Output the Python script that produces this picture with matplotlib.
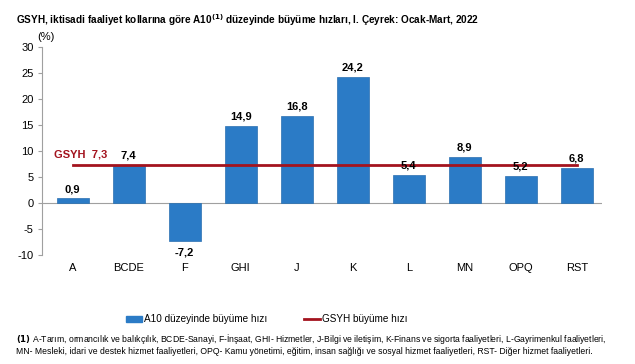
import matplotlib.pyplot as plt
from matplotlib.patches import Patch
from matplotlib.lines import Line2D

plt.rcParams['font.family'] = ['Liberation Sans', 'DejaVu Sans']

# veriler
kategoriler = ['A', 'BCDE', 'F', 'GHI', 'J', 'K', 'L', 'MN', 'OPQ', 'RST']
buyume = [0.9, 7.4, -7.2, 14.9, 16.8, 24.2, 5.4, 8.9, 5.2, 6.8]
gsyh = 7.3
y_ticks = [-10, -5, 0, 5, 10, 15, 20, 25, 30]

bar_renk = '#2B7BC6'
cizgi_renk = '#A3131E'

fig = plt.figure(figsize=(6.35, 3.64), dpi=100)
ax = fig.add_axes([0.066, 0.299, 0.882, 0.572])

x = list(range(len(kategoriler)))
ax.bar(x, buyume, width=0.57, color=bar_renk, edgecolor='#2A6FB0', linewidth=0.5, zorder=2)
ax.plot([x[0], x[-1]], [gsyh, gsyh], color=cizgi_renk, linewidth=2, zorder=3)

# deger etiketleri
for xi, v in zip(x, buyume):
    lbl = f'{v:.1f}'.replace('.', ',')
    if v >= 0:
        ax.text(xi, v + 0.8, lbl, ha='center', va='bottom', fontsize=8, fontweight='bold')
    else:
        ax.text(xi, v - 1.3, lbl, ha='center', va='top', fontsize=8, fontweight='bold')

ax.text(-0.33, gsyh + 1.0, 'GSYH  ' + f'{gsyh:.1f}'.replace('.', ','), color=cizgi_renk,
        fontsize=8, fontweight='bold', ha='left', va='bottom')

ax.set_xlim(-0.55, 9.45)
ax.set_ylim(-10, 30)
ax.set_yticks(y_ticks)
ax.set_yticklabels([str(t) for t in y_ticks], fontsize=8)
ax.set_xticks([])
ax.tick_params(axis='y', length=3, color='#A0A0A0', pad=3)

for s in ['top', 'right', 'bottom']:
    ax.spines[s].set_visible(False)
ax.spines['left'].set_color('#A0A0A0')
ax.axhline(0, color='#A0A0A0', linewidth=0.8, zorder=1)

# x etiketleri eksenin altinda
for xi, k in zip(x, kategoriler):
    ax.text(xi, -11.6, k, ha='center', va='top', fontsize=8)

fig.text(0.025, 0.945, r'GSYH, iktisadi faaliyet kollarına göre A10$^{\bf{(1)}}$ düzeyinde büyüme hızları, I. Çeyrek: Ocak-Mart, 2022',
         fontsize=7.2, fontweight='bold', ha='left', va='center')
fig.text(0.058, 0.898, '(%)', fontsize=8, ha='left', va='center')

handles = [Patch(facecolor=bar_renk, edgecolor=bar_renk),
           Line2D([0], [0], color=cizgi_renk, linewidth=2)]
fig.legend(handles, ['A10 düzeyinde büyüme hızı', 'GSYH büyüme hızı'], loc='center left',
           bbox_to_anchor=(0.185, 0.123), ncol=2, frameon=False, fontsize=7.2,
           handlelength=1.6, handletextpad=0.2, columnspacing=3.6, handleheight=0.6)

fig.text(0.025, 0.068, r'$\bf{(1)}$ A-Tarım, ormancılık ve balıkçılık, BCDE-Sanayi, F-İnşaat, GHI- Hizmetler, J-Bilgi ve iletişim, K-Finans ve sigorta faaliyetleri, L-Gayrimenkul faaliyetleri,',
         fontsize=6.2, ha='left', va='center')
fig.text(0.025, 0.033, 'MN- Mesleki, idari ve destek hizmet faaliyetleri, OPQ- Kamu yönetimi, eğitim, insan sağlığı ve sosyal hizmet faaliyetleri, RST- Diğer hizmet faaliyetleri.',
         fontsize=6.2, ha='left', va='center')

fig.savefig('out.png', dpi=100)
